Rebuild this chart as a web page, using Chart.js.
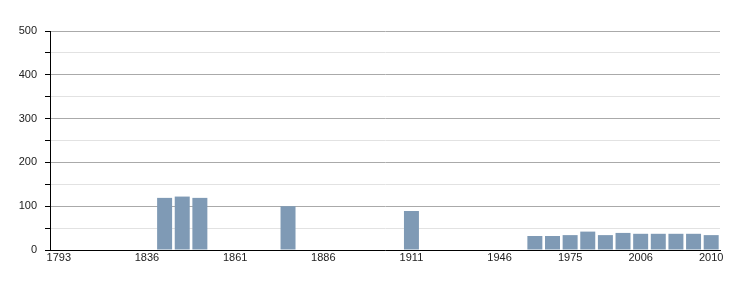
<!DOCTYPE html>
<html>
<head>
<meta charset="utf-8">
<script src="https://cdn.jsdelivr.net/npm/chart.js@4"></script>
<style>
    html, body { margin: 0; padding: 0; background: #fff; }
    #contenedor { width: 750px; height: 300px; }
</style>
</head>
<body>
<div id="contenedor"><canvas id="grafico"></canvas></div>
<script>
// Años de censo (una barra por año, aunque falte el dato)
const anios = [
    '1793', '1800', '1806', '1821', '1831', '1836', '1841', '1846', '1851', '1856',
    '1861', '1866', '1872', '1876', '1881', '1886', '1891', '1896', '1901', '1906',
    '1911', '1921', '1926', '1931', '1936', '1946', '1954', '1962', '1968', '1975',
    '1982', '1990', '1999', '2006', '2007', '2008', '2009', '2010'
];

// Población (null = sin dato)
const poblacion = [
    null, null, null, null, null, null, 119, 122, 119, null,
    null, null, null, 100, null, null, null, null, null, null,
    89, null, null, null, null, null, null, 32, 32, 34,
    42, 34, 39, 37, 37, 37, 37, 34
];

// Etiquetas visibles en el eje X
const etiquetasX = ['1793', '1836', '1861', '1886', '1911', '1946', '1975', '2006', '2010'];

// Marcas del eje Y
const yMin = 0;
const yMax = 500;
const yPaso = 50;

const fuente = { family: '"Liberation Sans", Arial, sans-serif', size: 11 };

new Chart(document.getElementById('grafico').getContext('2d'), {
    type: 'bar',
    data: {
        labels: anios,
        datasets: [{
            data: poblacion,
            backgroundColor: '#7f9ab5',
            barPercentage: 0.85,
            categoryPercentage: 1.0
        }]
    },
    options: {
        responsive: true,
        maintainAspectRatio: false,
        animation: false,
        layout: { padding: { top: 31, right: 30, left: 0, bottom: 0 } },
        plugins: {
            legend: { display: false },
            tooltip: { enabled: false }
        },
        scales: {
            x: {
                grid: { display: false, drawTicks: false },
                border: { display: true, color: '#000', width: 1 },
                ticks: {
                    autoSkip: false,
                    maxRotation: 0,
                    color: '#222',
                    font: fuente,
                    padding: 1,
                    callback: function(valor, i) {
                        let etiqueta = anios[i];
                        return etiquetasX.includes(etiqueta) ? etiqueta : '';
                    }
                },
                afterFit: (escala) => { escala.height = 50; }
            },
            y: {
                min: yMin,
                max: yMax,
                grid: {
                    color: (ctx) => (ctx.tick && ctx.tick.value % 100 === 0) ? '#aaaaaa' : '#e2e2e2',
                    tickColor: '#000',
                    tickLength: 5,
                    drawTicks: true
                },
                border: { display: true, color: '#000', width: 1 },
                ticks: {
                    stepSize: yPaso,
                    color: '#222',
                    font: fuente,
                    padding: 8,
                    callback: (valor) => valor % 100 === 0 ? valor : ''
                },
                afterFit: (escala) => { escala.width = 50; }
            }
        }
    }
});
</script>
</body>
</html>
